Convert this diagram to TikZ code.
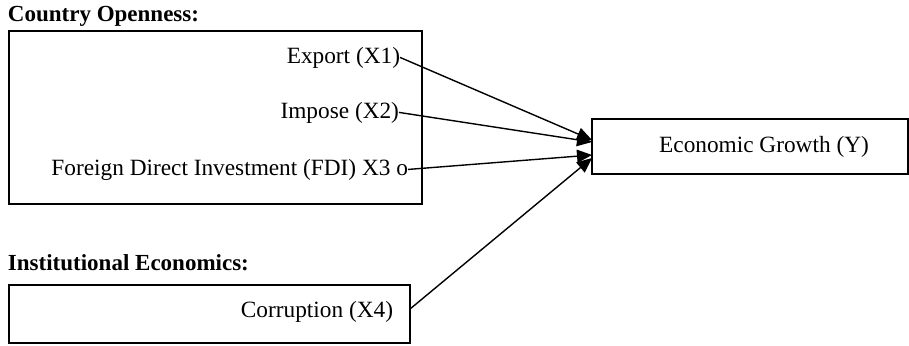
\documentclass[tikz,border=0pt]{standalone}
\usepackage{fontspec}
\setmainfont{Liberation Serif}
\usetikzlibrary{arrows.meta}
\begin{document}
\begin{tikzpicture}[x=0.5pt,y=-0.5pt,
  box/.style={draw, line width=0.8pt, inner sep=0pt, outer sep=0pt},
  lbl/.style={inner sep=0pt, outer sep=0pt, font=\fontsize{11.65}{13}\selectfont},
  hdr/.style={inner sep=0pt, outer sep=0pt, font=\fontsize{11.5}{13}\selectfont\bfseries},
  conn/.style={line width=0.7pt, -{Triangle[length=7.5pt,width=6.5pt]}}]
\useasboundingbox (0,0) rectangle (909,345);
\node[hdr, anchor=base west] (h1) at (8,21) {Country Openness:};
\node[hdr, anchor=base west] (h2) at (8,270) {Institutional Economics:};
\node[box, minimum width=206.5pt, minimum height=86.5pt] (open) at (215.5,117.5) {};
\node[box, minimum width=200.5pt, minimum height=29pt] (inst) at (209.5,314) {};
\node[box, minimum width=158pt, minimum height=27.5pt] (Y) at (750,146.5) {};
\node[lbl, anchor=base east] (x1) at (400,63) {Export (X1)};
\node[lbl, anchor=base east] (x2) at (399,118) {Impose (X2)};
\node[lbl, anchor=base east] (x3) at (408,175) {Foreign Direct Investment (FDI) X3 o};
\node[lbl, anchor=base east] (x4) at (393,317) {Corruption (X4)};
\node[lbl, anchor=base] (yt) at (764,152) {Economic Growth (Y)};
\draw[conn] (x1.east) -- ([yshift=3.25pt]Y.west);
\draw[conn] (x2.east) -- ([yshift=2.25pt]Y.west);
\draw[conn] (x3.east) -- ([yshift=-4.25pt]Y.west);
\draw[conn] ([yshift=2.5pt]inst.east) -- ([yshift=-5.75pt]Y.west);
\end{tikzpicture}
\end{document}
